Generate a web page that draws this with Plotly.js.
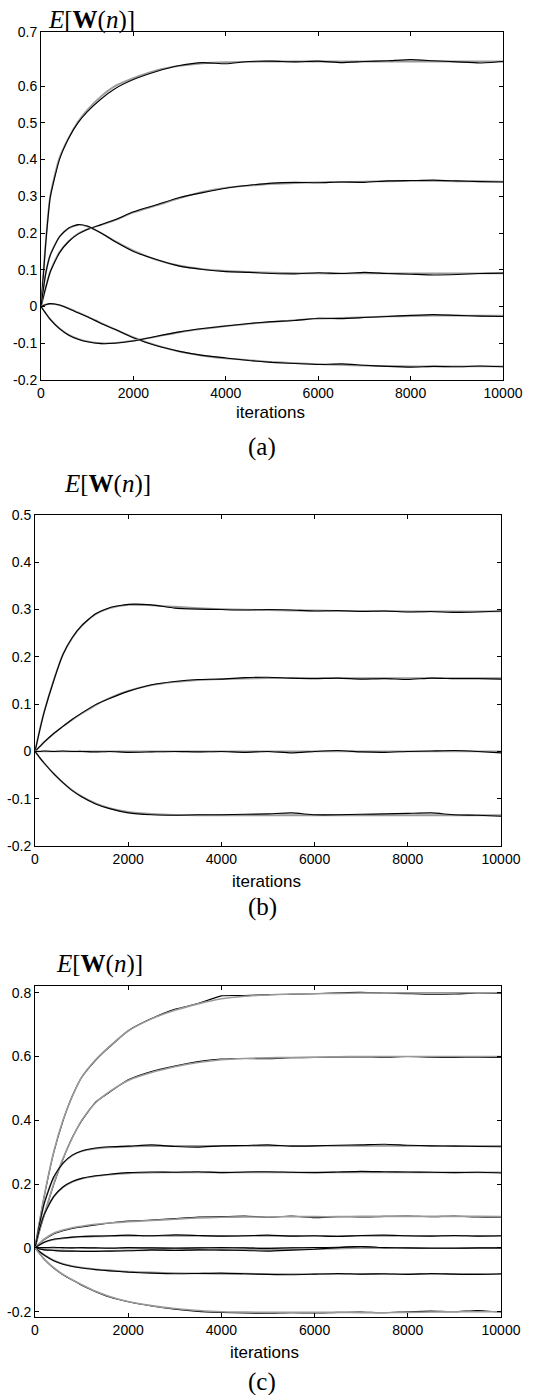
<!DOCTYPE html>
<html>
<head>
<meta charset="utf-8">
<script src="https://cdn.plot.ly/plotly-3.0.1.min.js"></script>
<style>html,body{margin:0;padding:0;background:#fff;}#chart{width:541px;height:1395px;}</style>
</head>
<body>
<div id="chart"></div>
<script>
// iterations grid shared by all curves
const iters = [0,100,200,400,600,800,1000,1300,1600,2000,2500,3000,3500,4000,4500,5000,5500,6000,6500,7000,7500,8000,8500,9000,9500,10000];

const xTickVals = [0,2000,4000,6000,8000,10000];
const xTickText = ['0','2000','4000','6000','8000','10000'];

// ---- panel (a): theory (grey) and simulation (black)
const a1Theory = [0,0.17,0.3,0.405,0.46,0.503,0.535,0.572,0.6,0.622,0.643,0.655,0.662,0.665,0.666,0.667,0.667,0.667,0.667,0.667,0.667,0.667,0.667,0.667,0.667,0.667];
const a1Sim    = [0,0.168,0.297,0.4,0.458,0.5,0.53,0.565,0.593,0.618,0.64,0.656,0.664,0.661,0.667,0.668,0.666,0.668,0.664,0.667,0.669,0.672,0.669,0.666,0.663,0.667];
const a2Theory = [0,0.05,0.095,0.148,0.178,0.198,0.21,0.222,0.235,0.256,0.275,0.295,0.312,0.323,0.329,0.334,0.336,0.338,0.339,0.34,0.341,0.342,0.342,0.341,0.341,0.34];
const a2Sim    = [0,0.05,0.094,0.146,0.177,0.197,0.21,0.223,0.236,0.258,0.277,0.297,0.31,0.322,0.33,0.336,0.338,0.337,0.339,0.338,0.342,0.343,0.344,0.342,0.34,0.339];
const a3Theory = [0,0.09,0.14,0.19,0.213,0.222,0.218,0.2,0.178,0.152,0.127,0.111,0.102,0.097,0.094,0.092,0.091,0.09,0.09,0.09,0.09,0.09,0.09,0.09,0.09,0.09];
const a3Sim    = [0,0.088,0.14,0.19,0.214,0.223,0.219,0.2,0.177,0.15,0.128,0.11,0.101,0.095,0.093,0.09,0.089,0.092,0.09,0.093,0.09,0.088,0.086,0.087,0.09,0.091];
const a4Theory = [0,0.005,0.007,0.004,-0.005,-0.016,-0.027,-0.045,-0.062,-0.084,-0.106,-0.123,-0.134,-0.141,-0.146,-0.151,-0.154,-0.157,-0.159,-0.161,-0.162,-0.163,-0.163,-0.163,-0.163,-0.163];
const a4Sim    = [0,0.005,0.008,0.004,-0.006,-0.017,-0.028,-0.046,-0.062,-0.085,-0.107,-0.122,-0.133,-0.14,-0.147,-0.152,-0.155,-0.158,-0.156,-0.16,-0.163,-0.165,-0.163,-0.164,-0.162,-0.164];
const a5Theory = [0,-0.018,-0.035,-0.06,-0.077,-0.088,-0.095,-0.1,-0.099,-0.093,-0.082,-0.07,-0.061,-0.053,-0.047,-0.042,-0.037,-0.033,-0.031,-0.029,-0.027,-0.026,-0.025,-0.025,-0.025,-0.025];
const a5Sim    = [0,-0.018,-0.035,-0.06,-0.078,-0.089,-0.096,-0.101,-0.1,-0.094,-0.081,-0.069,-0.06,-0.053,-0.046,-0.041,-0.038,-0.032,-0.033,-0.03,-0.027,-0.024,-0.022,-0.024,-0.026,-0.027];

// ---- panel (b)
const b1Theory = [0,0.045,0.085,0.15,0.205,0.24,0.265,0.29,0.303,0.31,0.309,0.306,0.303,0.301,0.3,0.299,0.298,0.298,0.297,0.297,0.297,0.296,0.296,0.296,0.296,0.296];
const b1Sim    = [0,0.044,0.084,0.149,0.205,0.241,0.266,0.291,0.304,0.311,0.31,0.303,0.301,0.3,0.299,0.3,0.299,0.297,0.298,0.296,0.297,0.295,0.296,0.294,0.295,0.297];
const b2Theory = [0,0.01,0.02,0.037,0.053,0.067,0.08,0.098,0.113,0.128,0.14,0.147,0.151,0.153,0.154,0.155,0.155,0.155,0.155,0.155,0.155,0.155,0.155,0.155,0.155,0.155];
const b2Sim    = [0,0.01,0.02,0.038,0.053,0.068,0.081,0.099,0.112,0.127,0.141,0.148,0.152,0.153,0.156,0.157,0.155,0.154,0.155,0.153,0.154,0.152,0.155,0.154,0.154,0.153];
const b3Theory = [0,0,0,0,0,0,0,0,0,0,0,0,0,0,0,0,0,0,0,0,0,0,0,0,0,0];
const b3Sim    = [0,0,0.001,0,0.001,0,0,-0.001,0,-0.002,-0.001,0,-0.001,0,-0.002,0,-0.003,0,0.002,-0.001,-0.002,0,0.001,0.002,0,-0.003];
const b4Theory = [0,-0.013,-0.025,-0.047,-0.066,-0.082,-0.095,-0.11,-0.12,-0.128,-0.132,-0.134,-0.135,-0.135,-0.135,-0.135,-0.135,-0.135,-0.135,-0.135,-0.135,-0.135,-0.135,-0.135,-0.135,-0.135];
const b4Sim    = [0,-0.013,-0.025,-0.047,-0.066,-0.083,-0.096,-0.111,-0.121,-0.13,-0.134,-0.135,-0.134,-0.134,-0.133,-0.132,-0.13,-0.134,-0.134,-0.133,-0.132,-0.131,-0.13,-0.134,-0.135,-0.137];

// ---- panel (c)
const c1Theory = [0,0.085,0.165,0.3,0.4,0.475,0.535,0.59,0.632,0.68,0.718,0.745,0.765,0.781,0.789,0.793,0.796,0.797,0.798,0.799,0.799,0.8,0.8,0.8,0.8,0.8];
const c1Sim    = [0,0.084,0.163,0.298,0.398,0.476,0.534,0.588,0.63,0.681,0.719,0.748,0.766,0.79,0.791,0.794,0.795,0.797,0.8,0.801,0.799,0.797,0.795,0.796,0.799,0.798];
const c2Theory = [0,0.055,0.105,0.2,0.28,0.345,0.4,0.455,0.49,0.525,0.55,0.568,0.581,0.59,0.594,0.596,0.597,0.598,0.599,0.6,0.6,0.6,0.6,0.6,0.6,0.6];
const c2Sim    = [0,0.055,0.104,0.198,0.278,0.346,0.398,0.457,0.488,0.527,0.553,0.57,0.584,0.592,0.594,0.593,0.596,0.597,0.598,0.599,0.598,0.6,0.598,0.597,0.598,0.597];
const c3Theory = [0,0.075,0.14,0.22,0.265,0.29,0.303,0.311,0.315,0.318,0.319,0.32,0.32,0.32,0.32,0.32,0.32,0.32,0.32,0.32,0.32,0.32,0.32,0.32,0.32,0.32];
const c3Sim    = [0,0.076,0.141,0.222,0.266,0.291,0.304,0.313,0.317,0.319,0.323,0.318,0.316,0.32,0.321,0.323,0.319,0.32,0.322,0.323,0.325,0.322,0.32,0.319,0.318,0.317];
const c4Theory = [0,0.06,0.105,0.16,0.19,0.207,0.217,0.225,0.23,0.234,0.236,0.237,0.237,0.237,0.237,0.237,0.237,0.237,0.237,0.237,0.237,0.237,0.237,0.237,0.237,0.237];
const c4Sim    = [0,0.061,0.106,0.161,0.191,0.208,0.218,0.226,0.231,0.236,0.238,0.237,0.239,0.236,0.238,0.239,0.237,0.236,0.238,0.24,0.239,0.238,0.237,0.236,0.237,0.235];
const c5Theory = [0,0.015,0.028,0.046,0.056,0.063,0.068,0.074,0.078,0.082,0.086,0.09,0.094,0.096,0.097,0.097,0.098,0.098,0.098,0.099,0.099,0.099,0.099,0.099,0.099,0.098];
const c5Sim    = [0,0.014,0.026,0.044,0.054,0.061,0.066,0.072,0.078,0.084,0.087,0.092,0.097,0.098,0.1,0.096,0.1,0.095,0.098,0.097,0.099,0.1,0.098,0.1,0.097,0.096];
const c6Theory = [0,0.01,0.018,0.026,0.03,0.033,0.035,0.036,0.037,0.038,0.038,0.038,0.038,0.038,0.038,0.038,0.038,0.038,0.038,0.038,0.038,0.038,0.038,0.038,0.038,0.038];
const c6Sim    = [0,0.01,0.018,0.027,0.031,0.034,0.036,0.037,0.038,0.04,0.038,0.041,0.039,0.037,0.038,0.04,0.037,0.038,0.036,0.039,0.04,0.038,0.037,0.039,0.037,0.038];
const c7aTheory = [0,0,0,0,0,0,0,0,0,0,0,0,0,0,0,0,0,0,0,0,0,0,0,0,0,0];
const c7aSim    = [0,0.001,0.001,0.002,0.001,0,0.001,0,-0.001,0.001,0,-0.001,0,0.001,0,-0.002,0,0.001,0.002,0.004,0.001,0,0.001,-0.001,0,0];
const c7bTheory = [0,-0.003,-0.005,-0.007,-0.008,-0.009,-0.009,-0.009,-0.009,-0.008,-0.007,-0.006,-0.006,-0.006,-0.006,-0.006,-0.005,-0.004,-0.002,0,0,0,0,0,0,0];
const c7bSim    = [0,-0.003,-0.006,-0.008,-0.01,-0.01,-0.011,-0.011,-0.01,-0.009,-0.006,-0.008,-0.006,-0.007,-0.008,-0.01,-0.007,-0.004,0.001,0.004,0.001,0,-0.001,-0.001,0,0];
const c8Theory = [0,-0.012,-0.022,-0.039,-0.05,-0.057,-0.062,-0.067,-0.07,-0.074,-0.077,-0.079,-0.08,-0.081,-0.081,-0.082,-0.082,-0.082,-0.082,-0.082,-0.082,-0.082,-0.082,-0.082,-0.082,-0.082];
const c8Sim    = [0,-0.012,-0.023,-0.04,-0.051,-0.058,-0.063,-0.068,-0.072,-0.076,-0.079,-0.081,-0.08,-0.079,-0.081,-0.083,-0.084,-0.082,-0.08,-0.082,-0.081,-0.083,-0.08,-0.082,-0.083,-0.081];
const c9Theory = [0,-0.018,-0.035,-0.062,-0.083,-0.1,-0.115,-0.136,-0.152,-0.168,-0.181,-0.19,-0.196,-0.2,-0.201,-0.202,-0.202,-0.202,-0.202,-0.203,-0.203,-0.202,-0.201,-0.2,-0.2,-0.2];
const c9Sim    = [0,-0.018,-0.036,-0.063,-0.084,-0.101,-0.117,-0.137,-0.154,-0.169,-0.182,-0.192,-0.199,-0.202,-0.204,-0.205,-0.203,-0.204,-0.202,-0.201,-0.203,-0.2,-0.198,-0.2,-0.196,-0.201];

const GREY = '#9a9a9a';
const traces = [];
function pair(theory, sim, xa, ya, greyTop) {
  const g = {x: iters, y: theory, xaxis: xa, yaxis: ya, mode: 'lines',
    line: {color: GREY, width: greyTop ? 1.6 : 1.8, shape: 'spline', smoothing: 0.7}, hoverinfo: 'skip'};
  const b = {x: iters, y: sim, xaxis: xa, yaxis: ya, mode: 'lines',
    line: {color: '#000', width: 1.1, shape: 'spline', smoothing: 0.5}, hoverinfo: 'skip'};
  if (greyTop) { traces.push(b, g); } else { traces.push(g, b); }
}
pair(a1Theory, a1Sim, 'x', 'y');
pair(a2Theory, a2Sim, 'x', 'y');
pair(a3Theory, a3Sim, 'x', 'y');
pair(a4Theory, a4Sim, 'x', 'y');
pair(a5Theory, a5Sim, 'x', 'y');
pair(b1Theory, b1Sim, 'x2', 'y2');
pair(b2Theory, b2Sim, 'x2', 'y2');
pair(b3Theory, b3Sim, 'x2', 'y2');
pair(b4Theory, b4Sim, 'x2', 'y2');
pair(c1Theory, c1Sim, 'x3', 'y3', true);
pair(c2Theory, c2Sim, 'x3', 'y3', true);
pair(c3Theory, c3Sim, 'x3', 'y3');
pair(c4Theory, c4Sim, 'x3', 'y3');
pair(c5Theory, c5Sim, 'x3', 'y3', true);
pair(c6Theory, c6Sim, 'x3', 'y3');
pair(c7aTheory, c7aSim, 'x3', 'y3');
pair(c7bTheory, c7bSim, 'x3', 'y3');
pair(c8Theory, c8Sim, 'x3', 'y3');
pair(c9Theory, c9Sim, 'x3', 'y3', true);

const W = 541, H = 1395;
const px = v => v / W, py = v => 1 - v / H;
const tickFont = {family: 'Liberation Sans, Arial, sans-serif', size: 14, color: '#000'};

function xAxis(x0, x1, anchor) {
  return {domain: [px(x0), px(x1)], anchor: anchor, range: [0, 10000],
    tickvals: xTickVals, ticktext: xTickText, ticks: 'inside', ticklen: 4, tickwidth: 1, tickcolor: '#000',
    showline: true, linecolor: '#000', linewidth: 1, mirror: 'ticks', showgrid: false, zeroline: false,
    tickfont: tickFont, fixedrange: true};
}
function yAxis(y0, y1, anchor, range, vals, text) {
  return {domain: [py(y1), py(y0)], anchor: anchor, range: range,
    tickvals: vals, ticktext: text, ticks: 'inside', ticklen: 4, tickwidth: 1, tickcolor: '#000',
    showline: true, linecolor: '#000', linewidth: 1, mirror: 'ticks', showgrid: false, zeroline: false,
    tickfont: tickFont, fixedrange: true};
}

const aYVals = [-0.2,-0.1,0,0.1,0.2,0.3,0.4,0.5,0.6,0.746];
const aYText = ['-0.2','-0.1','0','0.1','0.2','0.3','0.4','0.5','0.6','0.7'];
const bYVals = [-0.2,-0.1,0,0.1,0.2,0.3,0.4,0.5];
const bYText = ['-0.2','-0.1','0','0.1','0.2','0.3','0.4','0.5'];
const cYVals = [-0.2,0,0.2,0.4,0.6,0.8];
const cYText = ['-0.2','0','0.2','0.4','0.6','0.8'];

const serif = 'Liberation Serif, Times New Roman, serif';
const sans = 'Liberation Sans, Arial, sans-serif';
const titleText = '<i>E</i>[<b>W</b>(<i>n</i>)]';
function ann(text, x, y, font, xanchor) {
  return {text: text, x: px(x), y: py(y), xref: 'paper', yref: 'paper', xanchor: xanchor || 'center', yanchor: 'middle',
    showarrow: false, font: font};
}

const layout = {
  width: W, height: H, margin: {l: 0, r: 0, t: 0, b: 0}, paper_bgcolor: '#fff', plot_bgcolor: '#fff',
  showlegend: false,
  xaxis:  xAxis(41, 503, 'y'),
  yaxis:  yAxis(32.3, 380, 'x', [-0.2, 0.7465], aYVals, aYText),
  xaxis2: xAxis(35, 501, 'y2'),
  yaxis2: yAxis(515, 846, 'x2', [-0.2, 0.5], bYVals, bYText),
  xaxis3: xAxis(35, 501, 'y3'),
  yaxis3: yAxis(985.7, 1316.7, 'x3', [-0.2156, 0.822], cYVals, cYText),
  annotations: [
    ann(titleText, 46, 20, {family: serif, size: 25, color: '#000'}, 'left'),
    ann('iterations', 270, 413, {family: sans, size: 17, color: '#000'}),
    ann('(a)', 262, 447, {family: serif, size: 25, color: '#000'}),
    ann(titleText, 62, 484, {family: serif, size: 25, color: '#000'}, 'left'),
    ann('iterations', 266, 882, {family: sans, size: 17, color: '#000'}),
    ann('(b)', 262, 907, {family: serif, size: 25, color: '#000'}),
    ann(titleText, 54, 964, {family: serif, size: 25, color: '#000'}, 'left'),
    ann('iterations', 264, 1352, {family: sans, size: 17, color: '#000'}),
    ann('(c)', 262, 1382, {family: serif, size: 25, color: '#000'})
  ]
};

Plotly.newPlot('chart', traces, layout, {staticPlot: true, displayModeBar: false});
</script>
</body>
</html>
